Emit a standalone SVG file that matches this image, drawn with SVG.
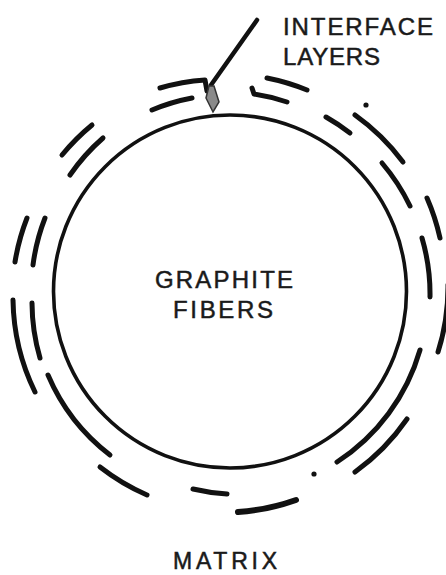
<svg xmlns="http://www.w3.org/2000/svg" width="446" height="575" viewBox="0 0 446 575">
  <style>
    .bg { fill: #ffffff; }
    .fiber { fill: none; stroke: #111; stroke-width: 3.6; }
    .dash { fill: none; stroke: #111; stroke-width: 5; stroke-linecap: round; stroke-linejoin: round; }
    .dot { fill: #111; }
    .lbl { font-family: "Liberation Sans", Arial, sans-serif; font-size: 24px; fill: #1a1a1a; stroke: #1a1a1a; stroke-width: 0.5; }
    .lead { fill: none; stroke: #111; stroke-width: 4.5; stroke-linecap: round; }
  </style>
  <rect class="bg" x="0" y="0" width="446" height="575"/>

  <g id="graphite-fiber">
    <circle class="fiber" cx="230" cy="291.5" r="176.5"/>
    <text class="lbl" x="155" y="288" textLength="138" lengthAdjust="spacing">GRAPHITE</text>
    <text class="lbl" x="173" y="318" textLength="100" lengthAdjust="spacing">FIBERS</text>
  </g>

  <g id="interface-layers">
    <!-- inner ring r=199 -->
    <path class="dash" d="M152,110 A199,199 0 0 1 192,98"/>
    <path class="dash" d="M252,88 L254,94 A199,199 0 0 1 287,102"/>
    <path class="dash" d="M326,117 A199,199 0 0 1 350,133"/>
    <path class="dash" d="M382,163 A199,199 0 0 1 410,206"/>
    <path class="dash" d="M422,238 A199,199 0 0 1 430,297"/>
    <path class="dash" d="M420,350 A199,199 0 0 1 337,462"/>
    <path class="dash" d="M227,494 A199,199 0 0 1 193,489"/>
    <path class="dash" d="M110,455 A199,199 0 0 1 48,375"/>
    <path class="dash" d="M40,358 A199,199 0 0 1 32,303"/>
    <path class="dash" d="M33,265 A199,199 0 0 1 45,218"/>
    <path class="dash" d="M70,175 A199,199 0 0 1 103,138"/>
    <!-- outer ring r=217 -->
    <path class="dash" d="M160,88 A217,217 0 0 1 205,80 L207,91"/>
    <path class="dash" d="M267,78 A217,217 0 0 1 307,90"/>
    <path class="dash" d="M355,115 A217,217 0 0 1 403,162"/>
    <path class="dash" d="M427,198 A217,217 0 0 1 440,238"/>
    <path class="dash" d="M448,285 A217,217 0 0 1 438,352"/>
    <path class="dash" d="M407,419 A217,217 0 0 1 355,472"/>
    <path class="dash" d="M296,500 A217,217 0 0 1 238,512" style="stroke-width:6"/>
    <path class="dash" d="M147,495 A217,217 0 0 1 100,467"/>
    <path class="dash" d="M35,392 A217,217 0 0 1 13,300"/>
    <path class="dash" d="M15,262 A217,217 0 0 1 27,218"/>
    <path class="dash" d="M62,155 A217,217 0 0 1 92,125"/>
    <circle class="dot" cx="366" cy="105" r="2.6"/>
    <circle class="dot" cx="314" cy="474" r="2.6"/>
    <text class="lbl" x="283" y="35" textLength="150" lengthAdjust="spacing">INTERFACE</text>
    <text class="lbl" x="283" y="65" textLength="97" lengthAdjust="spacing">LAYERS</text>
  </g>

  <g id="matrix">
    <text class="lbl" x="173" y="569" font-size="23" style="font-size:23px" textLength="104" lengthAdjust="spacing">MATRIX</text>
  </g>

  <g id="connectors">
    <line class="lead" x1="257" y1="20" x2="211" y2="85"/>
    <path d="M209,86 L206,98 L213,112 L219,102 L214,86 Z" fill="#8a8a8a" stroke="#333" stroke-width="1.5"/>
  </g>
</svg>
